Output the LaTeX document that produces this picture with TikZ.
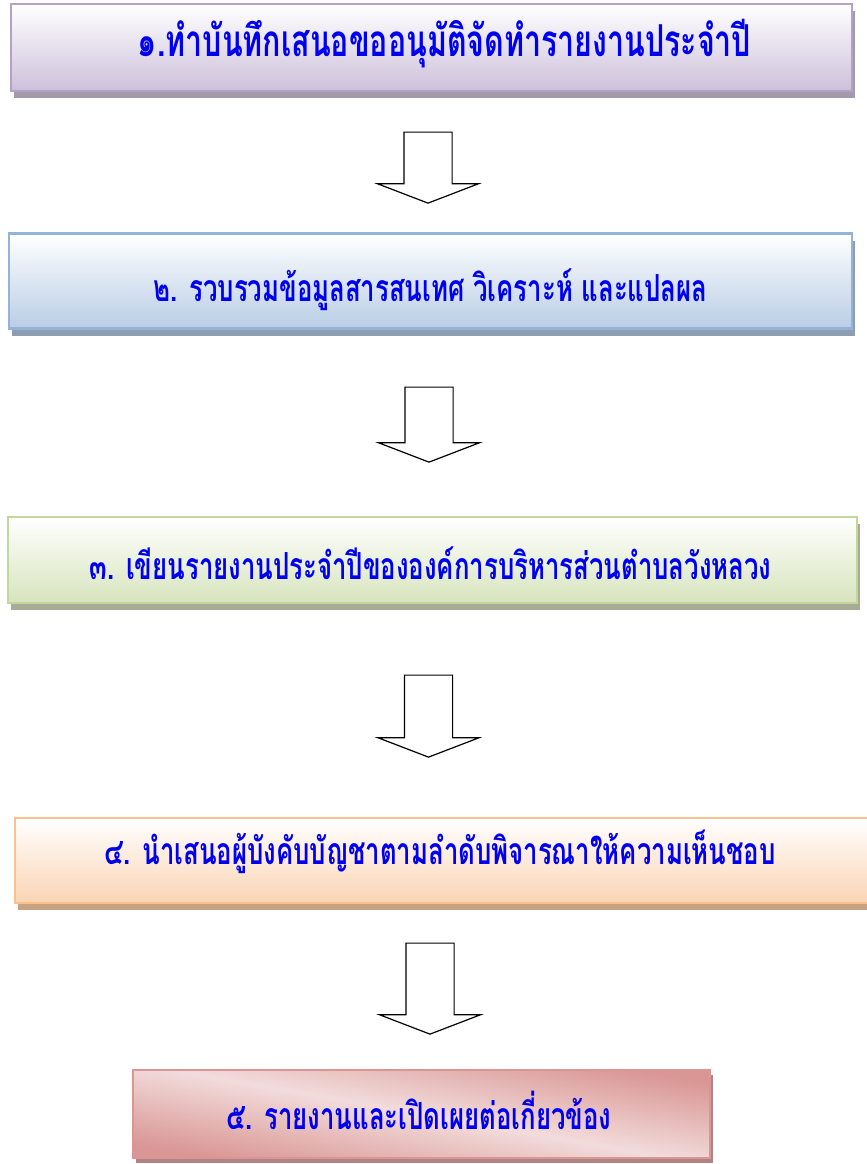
\documentclass[tikz,border=0pt]{standalone}
\usepackage{fontspec}
\newfontfamily\thaifont[Script=Thai]{Loma}
\usetikzlibrary{shapes.arrows,shadows}

\definecolor{stepText}{RGB}{0,0,240}
\definecolor{lilacLine}{RGB}{179,162,199}
\definecolor{lilacFill}{RGB}{204,192,218}
\definecolor{lilacShadow}{RGB}{160,154,170}
\definecolor{blueLine}{RGB}{149,179,215}
\definecolor{blueFill}{RGB}{185,205,229}
\definecolor{blueShadow}{RGB}{142,158,178}
\definecolor{greenLine}{RGB}{195,214,155}
\definecolor{greenFill}{RGB}{215,228,189}
\definecolor{greenShadow}{RGB}{166,172,150}
\definecolor{peachLine}{RGB}{250,192,144}
\definecolor{peachFill}{RGB}{250,212,180}
\definecolor{peachShadow}{RGB}{200,162,128}
\definecolor{roseLine}{RGB}{217,150,148}
\definecolor{roseDark}{RGB}{217,150,148}
\definecolor{roseLight}{RGB}{242,220,219}
\definecolor{roseShadow}{RGB}{176,132,132}

\def\px{0.75pt}
%% Text of a step: condensed, lifted by #1, shifted right by #2.
\newcommand{\stepLabel}[3]{\smash{\hspace*{#2}\raisebox{#1}{\scalebox{0.69}[1]{#3}}}}

\begin{document}
\begin{tikzpicture}[x=0.75pt,y=-0.75pt,%%
  boxStyle/.style={draw,line width=1.6pt,inner sep=0pt,text=stepText,%%
    font=\thaifont\bfseries\fontsize{28}{32}\selectfont},%%
  arrowStyle/.style={single arrow,draw=black,fill=white,line width=0.9pt,%%
    inner sep=23.5*\px,single arrow head extend=26.5*\px,%%
    single arrow tip angle=138,shape border rotate=270}%%
]
%%
\useasboundingbox (0,0) rectangle (867,1164);
%%
%% Anchor points of the steps.
\coordinate (StepOne) at (431.5,47.5);
\coordinate (StepTwo) at (430.5,281);
\coordinate (StepThree) at (432.5,560);
\coordinate (StepFour) at (442,860.5);
\coordinate (StepFive) at (421.5,1114);
%%
%% Boxes of the steps.
\node (stepA) at (StepOne) [boxStyle,draw=lilacLine,top color=white,bottom color=lilacFill,%%
  minimum width=841*\px,minimum height=87*\px,%%
  font=\thaifont\bfseries\fontsize{33}{37}\selectfont,%%
  drop shadow={shadow xshift=3*\px,shadow yshift=-7*\px,fill=lilacShadow,opacity=1}]
  {\stepLabel{-6.5pt}{19.5pt}{๑.ทำบันทึกเสนอขออนุมัติจัดทำรายงานประจำปี}};
\node (stepB) at (StepTwo) [boxStyle,draw=blueLine,top color=white,bottom color=blueFill,%%
  minimum width=843*\px,minimum height=95*\px,%%
  drop shadow={shadow xshift=3*\px,shadow yshift=-7*\px,fill=blueShadow,opacity=1}]
  {\stepLabel{-15pt}{0pt}{๒. รวบรวมข้อมูลสารสนเทศ วิเคราะห์ และแปลผล}};
\node (stepC) at (StepThree) [boxStyle,draw=greenLine,top color=white,bottom color=greenFill,%%
  minimum width=849*\px,minimum height=86*\px,%%
  drop shadow={shadow xshift=3*\px,shadow yshift=-7*\px,fill=greenShadow,opacity=1}]
  {\stepLabel{-14.25pt}{-3pt}{๓. เขียนรายงานประจำปีขององค์การบริหารส่วนตำบลวังหลวง}};
\node (stepD) at (StepFour) [boxStyle,draw=peachLine,top color=white,bottom color=peachFill,%%
  minimum width=854*\px,minimum height=85*\px,%%
  drop shadow={shadow xshift=3*\px,shadow yshift=-7*\px,fill=peachShadow,opacity=1}]
  {\stepLabel{-3.3pt}{-3pt}{๔. นำเสนอผู้บังคับบัญชาตามลำดับพิจารณาให้ความเห็นชอบ}};
\node (stepE) at (StepFive) [boxStyle,draw=roseLine,top color=roseDark,bottom color=roseDark,%%
  middle color=roseLight,shading angle=-10,%%
  minimum width=577*\px,minimum height=88*\px,%%
  drop shadow={shadow xshift=3*\px,shadow yshift=-5*\px,fill=roseShadow,opacity=1}]
  {\stepLabel{-11.25pt}{-4pt}{๕. รายงานและเปิดเผยต่อเกี่ยวข้อง}};
%%
%% Block arrows between the steps.
\node (arrowA) at (428,163) [arrowStyle,minimum height=71*\px] {};
\node (arrowB) at (429,420) [arrowStyle,minimum height=75*\px] {};
\node (arrowC) at (428.5,711.5) [arrowStyle,minimum height=82*\px] {};
\node (arrowD) at (430,984) [arrowStyle,minimum height=91*\px] {};
\end{tikzpicture}
\end{document}
